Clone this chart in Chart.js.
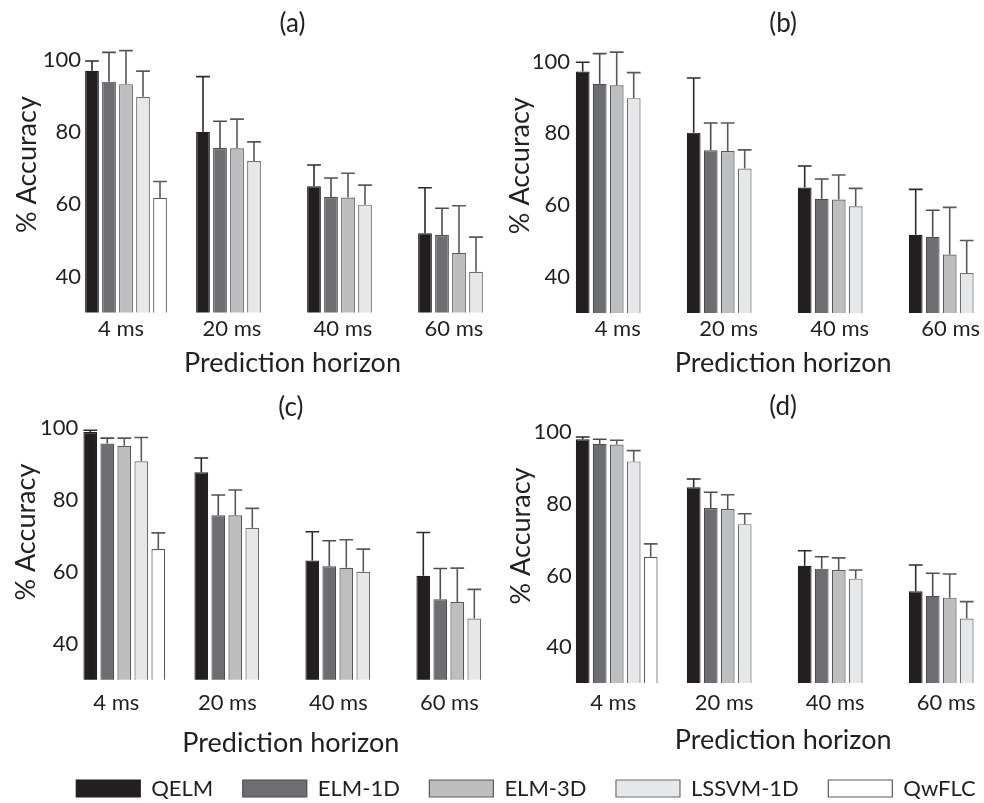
<!DOCTYPE html>
<html><head><meta charset="utf-8">
<script src="https://cdn.jsdelivr.net/npm/chart.js@4.4.1/dist/chart.umd.min.js"></script>
<style>
html,body{margin:0;padding:0;background:#fff;}
body{width:984px;height:803px;overflow:hidden;position:relative;}
canvas{position:absolute;}
</style></head><body>
<canvas id="pa" width="530" height="390" style="left:0px;top:0px"></canvas>
<canvas id="pb" width="520" height="390" style="left:490px;top:0px"></canvas>
<canvas id="pc" width="530" height="390" style="left:0px;top:372px"></canvas>
<canvas id="pd" width="520" height="390" style="left:490px;top:372px"></canvas>
<canvas id="lg" width="1002" height="200" style="left:25px;top:650px"></canvas>
<script>
// ---------- data ----------
const categories = ['4 ms', '20 ms', '40 ms', '60 ms'];
const seriesNames = ['QELM', 'ELM-1D', 'ELM-3D', 'LSSVM-1D', 'QwFLC'];
const yTicks = [40, 60, 80, 100];
const panelLabels = ['(a)', '(b)', '(c)', '(d)'];

// mean accuracy per series (rows: QELM, ELM-1D, ELM-3D, LSSVM-1D, QwFLC)
const meanA = [
  [97.0, 80.1, 65.0, 52.0],
  [94.0, 75.6, 62.0, 51.5],
  [93.3, 75.5, 61.9, 46.5],
  [89.8, 72.0, 59.9, 41.3],
  [61.8, null, null, null]
];
const sdA = [
  [2.7, 15.3, 5.9, 12.6],
  [8.1, 7.4, 5.3, 7.4],
  [9.3, 8.1, 6.7, 13.1],
  [7.1, 5.3, 5.4, 9.6],
  [4.5, null, null, null]
];
const meanB = [
  [97.2, 80.2, 64.9, 51.8],
  [93.8, 75.3, 61.8, 51.2],
  [93.4, 75.1, 61.6, 46.3],
  [89.8, 70.2, 59.7, 41.1],
  [null, null, null, null]
];
const sdB = [
  [2.6, 15.2, 6.0, 12.6],
  [8.4, 7.6, 5.5, 7.4],
  [9.2, 7.8, 6.8, 13.1],
  [7.1, 5.2, 5.0, 9.1],
  [null, null, null, null]
];
const meanC = [
  [98.8, 87.6, 63.1, 58.9],
  [95.6, 75.7, 61.5, 52.4],
  [95.0, 75.7, 61.1, 51.6],
  [90.7, 72.2, 60.0, 47.0],
  [66.3, null, null, null]
];
const sdC = [
  [0.5, 4.0, 8.0, 12.0],
  [1.5, 5.6, 7.1, 8.5],
  [2.1, 7.0, 7.8, 9.4],
  [6.6, 5.4, 6.3, 8.1],
  [4.5, null, null, null]
];
const meanD = [
  [98.0, 84.6, 62.7, 55.6],
  [96.7, 78.8, 61.9, 54.3],
  [96.5, 78.5, 61.5, 53.8],
  [91.8, 74.3, 59.1, 48.0],
  [65.2, null, null, null]
];
const sdD = [
  [0.6, 2.3, 4.2, 7.3],
  [1.3, 4.4, 3.3, 6.3],
  [1.2, 4.0, 3.4, 6.6],
  [3.0, 2.9, 2.4, 4.7],
  [3.6, null, null, null]
];

// ---------- style ----------
const fills = ['#231f20', '#6d6e71', '#bcbec0', '#e6e7e8', '#ffffff'];
const borders = ['#231f20', '#4d4d4f', '#58595b', '#6d6e71', '#58595b'];
const errColors = ['#2b2b2b', '#4d4d4f', '#58595b', '#58595b', '#58595b'];
const textColor = '#231f20';
const fontFamily = 'Lato, "Open Sans", sans-serif';
const tickSize = 22;

Chart.defaults.font.family = fontFamily;
Chart.defaults.color = textColor;

// width of the widest y tick label, used to right-align mirrored labels
const mctx = document.createElement('canvas').getContext('2d');
mctx.font = 'normal normal ' + tickSize + 'px ' + fontFamily;
const widestTick = Math.max(...yTicks.map(v => mctx.measureText(String(v)).width));

// layout geometry per panel (pixels inside each canvas)
const layouts = [
  {id: 'pa', yW: 70.5, padR: 15.5, tTop: 8.4, tBot: -22.9, yTitlePad: 11.3, yLblRight: 10.5, xH: 77.5, xTickPad: -5.0, xTitlePad: 10.3, lblOff: -5},
  {id: 'pb', yW: 71.2, padR: 4.8, tTop: 8.4, tBot: -21.2, yTitlePad: 13.8, yLblRight: 8.8, xH: 77.0, xTickPad: -5.0, xTitlePad: 10.3, lblOff: 1},
  {id: 'pc', yW: 68.8, padR: 17.2, tTop: 20.4, tBot: -39.1, yTitlePad: 9.8, yLblRight: 9.5, xH: 82.2, xTickPad: 1.7, xTitlePad: 2.3, lblOff: -8},
  {id: 'pd', yW: 71.2, padR: 4.8, tTop: 19.4, tBot: -33.6, yTitlePad: 15.3, yLblRight: 10.5, xH: 79.0, xTickPad: -1.5, xTitlePad: 5.8, lblOff: -3.5}
];
const means = [meanA, meanB, meanC, meanD];
const sds = [sdA, sdB, sdC, sdD];

// upper error bars drawn through the y scale
const errorBars = {
  id: 'errorBars',
  afterDatasetsDraw(chart) {
    const ctx = chart.ctx;
    const ys = chart.scales.y;
    chart.data.datasets.forEach((ds, di) => {
      if (!ds.errorPlus) return;
      const meta = chart.getDatasetMeta(di);
      meta.data.forEach((bar, i) => {
        const v = ds.data[i];
        const e = ds.errorPlus[i];
        if (v == null || e == null) return;
        const p = bar.getProps(['x', 'width'], true);
        const yBar = ys.getPixelForValue(v);
        const yTop = ys.getPixelForValue(v + e);
        ctx.save();
        ctx.strokeStyle = ds.errorColor;
        ctx.lineWidth = 1.6;
        ctx.beginPath();
        ctx.moveTo(p.x, yBar);
        ctx.lineTo(p.x, yTop);
        ctx.moveTo(p.x - p.width / 2, yTop);
        ctx.lineTo(p.x + p.width / 2, yTop);
        ctx.stroke();
        ctx.restore();
      });
    });
  }
};

function makeDatasets(mean, sd) {
  return seriesNames.map((name, s) => ({
    label: name,
    data: mean[s],
    errorPlus: sd[s],
    errorColor: errColors[s],
    backgroundColor: fills[s],
    borderColor: borders[s],
    borderWidth: 1.2,
    borderSkipped: false,
    categoryPercentage: 0.766,
    barPercentage: 0.81
  }));
}

layouts.forEach((L, k) => {
  new Chart(document.getElementById(L.id), {
    type: 'bar',
    data: { labels: categories, datasets: makeDatasets(means[k], sds[k]) },
    plugins: [errorBars],
    options: {
      responsive: false,
      animation: false,
      events: [],
      layout: { padding: { left: 0, right: L.padR, top: 0, bottom: 0 } },
      plugins: {
        legend: { display: false },
        tooltip: { enabled: false },
        title: {
          display: true, text: panelLabels[k], fullSize: false,
          font: { size: 26, weight: 'normal' },
          padding: { top: L.tTop, bottom: L.tBot }
        }
      },
      scales: {
        x: {
          type: 'category', offset: true,
          grid: { display: false }, border: { display: false },
          ticks: { font: { size: tickSize }, padding: L.xTickPad, labelOffset: L.lblOff, maxRotation: 0, autoSkip: false, color: textColor },
          title: { display: true, text: 'Prediction horizon', font: { size: 27 }, color: textColor, padding: { top: 0, bottom: L.xTitlePad } },
          afterFit: s => { s.height = L.xH; }
        },
        y: {
          min: 30, max: 112,
          grid: { display: false }, border: { display: false },
          afterBuildTicks: s => { s.ticks = yTicks.map(v => ({ value: v })); },
          ticks: { font: { size: tickSize }, mirror: true, crossAlign: 'far', padding: L.yLblRight - widestTick, color: textColor },
          title: { display: true, text: '% Accuracy', font: { size: 27 }, color: textColor, padding: { top: L.yTitlePad, bottom: 0 } },
          afterFit: s => { s.width = L.yW; }
        }
      }
    }
  });
});

// legend-only chart
new Chart(document.getElementById('lg'), {
  type: 'bar',
  data: {
    labels: [],
    datasets: seriesNames.map((name, s) => ({
      label: name, data: [],
      backgroundColor: fills[s], borderColor: borders[s], borderWidth: 1.2
    }))
  },
  options: {
    responsive: false,
    animation: false,
    events: [],
    layout: { padding: { top: 98 } },
    scales: { x: { display: false }, y: { display: false } },
    plugins: {
      tooltip: { enabled: false },
      legend: {
        display: true, position: 'top',
        labels: { boxWidth: 64, boxHeight: 17, padding: 29.5, font: { size: 22 }, color: textColor }
      }
    }
  }
});
</script>
</body></html>
